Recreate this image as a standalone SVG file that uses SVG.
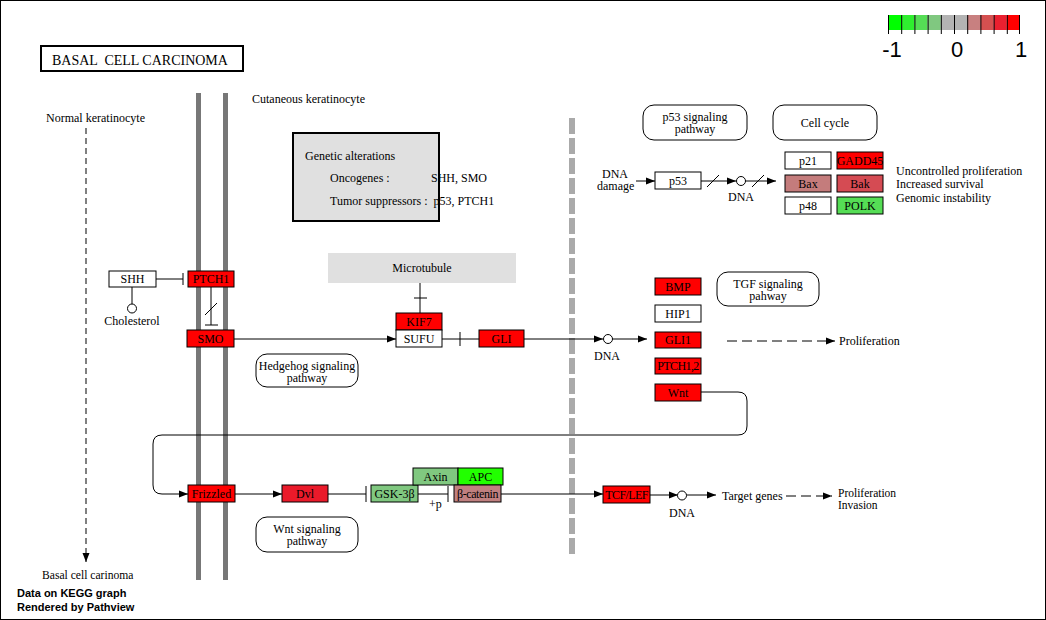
<svg xmlns="http://www.w3.org/2000/svg" width="1046" height="620" viewBox="0 0 1046 620">
<defs>
<style>
text{font-family:"Liberation Serif","Times New Roman",serif;font-size:12px;fill:#000;white-space:pre}
.c{text-anchor:middle}
.n rect{stroke:#000;stroke-width:1}
.ln{stroke:#000;stroke-width:1;fill:none}
.dash{stroke:#000;stroke-width:1;fill:none;stroke-dasharray:10 5}
.pw{fill:#fff;stroke:#000;stroke-width:1}
.foot{font-family:"Liberation Sans",Arial,sans-serif;font-weight:bold;font-size:11px}
.leg{font-family:"Liberation Sans",Arial,sans-serif;font-size:22px;text-anchor:middle}
</style>
<marker id="ar" markerWidth="10" markerHeight="8" refX="9" refY="4" orient="auto" markerUnits="userSpaceOnUse">
<path d="M0,0.5 L9,4 L0,7.5 Z" fill="#000"/>
</marker>
</defs>
<rect x="0.5" y="0.5" width="1045" height="619" fill="#fff" stroke="#000"/>

<g id="legend">
<rect x="888" y="15" width="13.2" height="15" fill="#00FF00"/>
<rect x="901.2" y="15" width="13.2" height="15" fill="#2FEE2F"/>
<rect x="914.4" y="15" width="13.2" height="15" fill="#55DD55"/>
<rect x="927.6" y="15" width="13.2" height="15" fill="#80C880"/>
<rect x="940.8" y="15" width="13.2" height="15" fill="#B3B3B3"/>
<rect x="954" y="15" width="13.2" height="15" fill="#B3B3B3"/>
<rect x="967.2" y="15" width="13.2" height="15" fill="#C88080"/>
<rect x="980.4" y="15" width="13.2" height="15" fill="#D55050"/>
<rect x="993.6" y="15" width="13.2" height="15" fill="#EA2030"/>
<rect x="1006.8" y="15" width="13.2" height="15" fill="#FF0000"/>
<path class="ln" d="M888.5,15V34M901.7,15V34M914.9,15V34M928.1,15V34M941.3,15V34M954.5,15V34M967.7,15V34M980.9,15V34M994.1,15V34M1007.3,15V34M1019.5,15V34"/>
<text class="leg" x="892" y="57">-1</text>
<text class="leg" x="957" y="57">0</text>
<text class="leg" x="1021" y="57">1</text>
</g>

<g id="title">
<rect x="41" y="46" width="202" height="25" fill="#fff" stroke="#000" stroke-width="2"/>
<text x="52" y="65" style="font-size:14px">BASAL  CELL CARCINOMA</text>
</g>

<g id="membranes">
<rect x="196" y="93" width="5" height="487" fill="#777"/>
<rect x="223" y="93" width="5" height="487" fill="#777"/>
<line x1="572" y1="118" x2="572" y2="556" stroke="#AAAAAA" stroke-width="6" stroke-dasharray="16 4"/>
</g>

<g id="labels">
<text x="46" y="122">Normal keratinocyte</text>
<text x="42" y="579" style="font-size:11.6px">Basal cell carinoma</text>
<text x="252" y="103">Cutaneous keratinocyte</text>
<text x="602" y="178">DNA</text>
<text x="597" y="190">damage</text>
<text class="c" x="741" y="201">DNA</text>
<text class="c" x="132" y="325">Cholesterol</text>
<text class="c" x="607" y="360">DNA</text>
<text x="839" y="345">Proliferation</text>
<text x="896" y="175">Uncontrolled proliferation</text>
<text x="896" y="188">Increased survival</text>
<text x="896" y="202">Genomic instability</text>
<text x="429" y="508">+p</text>
<text class="c" x="682" y="517">DNA</text>
<text x="722" y="500">Target genes</text>
<text x="838" y="497" style="font-size:11.5px">Proliferation</text>
<text x="838" y="509" style="font-size:11.5px">Invasion</text>
</g>

<g id="genetic">
<rect x="293" y="133" width="146" height="88" fill="#E0E0E0" stroke="#000" stroke-width="2"/>
<text x="305" y="160">Genetic alterations</text>
<text x="330" y="182">Oncogenes :</text>
<text x="431" y="182">SHH, SMO</text>
<text x="330" y="205">Tumor suppressors :  p53, PTCH1</text>
</g>

<g id="microtubule">
<rect x="328" y="253" width="188" height="30" fill="#E0E0E0"/>
<text class="c" x="422" y="272">Microtubule</text>
</g>

<g id="pathways">
<g id="pw_p53"><rect class="pw" x="643" y="105" width="104" height="35" rx="11"/><text class="c" x="695" y="121">p53 signaling</text><text class="c" x="695" y="133">pathway</text></g>
<g id="pw_cc"><rect class="pw" x="773" y="105" width="104" height="35" rx="11"/><text class="c" x="825" y="127">Cell cycle</text></g>
<g id="pw_tgf"><rect class="pw" x="717" y="272" width="102" height="34" rx="11"/><text class="c" x="768" y="288">TGF signaling</text><text class="c" x="768" y="300">pahway</text></g>
<g id="pw_hh"><rect class="pw" x="256" y="354" width="102" height="33" rx="11"/><text class="c" x="307" y="370">Hedgehog signaling</text><text class="c" x="307" y="382">pathway</text></g>
<g id="pw_wnt"><rect class="pw" x="256" y="517" width="102" height="35" rx="11"/><text class="c" x="307" y="533">Wnt signaling</text><text class="c" x="307" y="545">pathway</text></g>
</g>

<g id="connectors">
<line class="ln" x1="86" y1="128" x2="86" y2="562" stroke-dasharray="6 4" marker-end="url(#ar)"/>
<path class="ln" d="M156,279H183M183,273V285"/>
<path class="ln" d="M132,287V304"/>
<circle cx="132" cy="308.5" r="4.5" fill="#fff" stroke="#000"/>
<path class="ln" d="M211,287V325M205,325H218M205,315L217,303"/>
<line class="ln" x1="234" y1="339" x2="396" y2="339" marker-end="url(#ar)"/>
<path class="ln" d="M420,283V313M414,298H427"/>
<path class="ln" d="M442,339H479M460,332V346"/>
<line class="ln" x1="524" y1="339" x2="603" y2="339" marker-end="url(#ar)"/>
<circle cx="608" cy="339" r="4.5" fill="#fff" stroke="#000"/>
<line class="ln" x1="612.5" y1="339" x2="647" y2="339" marker-end="url(#ar)"/>
<line class="dash" x1="727" y1="341" x2="835" y2="341" marker-end="url(#ar)"/>
<line class="ln" x1="636" y1="181" x2="655" y2="181" marker-end="url(#ar)"/>
<line class="ln" x1="701" y1="181" x2="736" y2="181" marker-end="url(#ar)"/>
<path class="ln" d="M707,187L719,175"/>
<circle cx="741" cy="181" r="4.5" fill="#fff" stroke="#000"/>
<line class="ln" x1="745.5" y1="181" x2="776" y2="181" marker-end="url(#ar)"/>
<path class="ln" d="M752,187L764,175"/>
<path class="ln" d="M701,392H738Q747,392 747,401V426Q747,435 738,435H162Q153,435 153,444V485Q153,494 162,494H188" marker-end="url(#ar)"/>
<line class="ln" x1="235" y1="494" x2="282" y2="494" marker-end="url(#ar)"/>
<path class="ln" d="M328,494H366M366,486V502"/>
<path class="ln" d="M418,494H448M448,486V502"/>
<line class="ln" x1="501" y1="494" x2="603" y2="494" marker-end="url(#ar)"/>
<line class="ln" x1="650" y1="495" x2="678" y2="495" marker-end="url(#ar)"/>
<circle cx="682" cy="495.5" r="4.5" fill="#fff" stroke="#000"/>
<line class="ln" x1="686.5" y1="495" x2="716" y2="495" marker-end="url(#ar)"/>
<line class="dash" x1="786" y1="496" x2="832" y2="496" marker-end="url(#ar)"/>
</g>

<g id="nodes">
<g id="n_SHH" class="n"><rect x="109" y="271" width="47" height="16" fill="#fff"/><text class="c" x="132.5" y="283">SHH</text></g>
<g id="n_PTCH1" class="n"><rect x="188" y="271" width="46" height="16" fill="#FF0000"/><text class="c" x="211" y="283">PTCH1</text></g>
<g id="n_SMO" class="n"><rect x="187" y="330" width="47" height="17" fill="#FF0000"/><text class="c" x="210.5" y="343">SMO</text></g>
<g id="n_KIF7" class="n"><rect x="396" y="313" width="46" height="17" fill="#FF0000"/><text class="c" x="419" y="326">KIF7</text></g>
<g id="n_SUFU" class="n"><rect x="396" y="330" width="46" height="17" fill="#fff"/><text class="c" x="419" y="343">SUFU</text></g>
<g id="n_GLI" class="n"><rect x="479" y="330" width="45" height="17" fill="#FF0000"/><text class="c" x="501.5" y="343">GLI</text></g>
<g id="n_p53" class="n"><rect x="655" y="172" width="46" height="17" fill="#fff"/><text class="c" x="678" y="185">p53</text></g>
<g id="n_p21" class="n"><rect x="785" y="152" width="46" height="17" fill="#fff"/><text class="c" x="808" y="165">p21</text></g>
<g id="n_Bax" class="n"><rect x="785" y="175" width="46" height="17" fill="#C47C7C"/><text class="c" x="808" y="188">Bax</text></g>
<g id="n_p48" class="n"><rect x="785" y="197" width="46" height="17" fill="#fff"/><text class="c" x="808" y="210">p48</text></g>
<g id="n_GADD45" class="n"><rect x="837" y="152" width="46" height="17" fill="#FF0000"/><text class="c" x="860" y="165">GADD45</text></g>
<g id="n_Bak" class="n"><rect x="837" y="175" width="46" height="17" fill="#D54B53"/><text class="c" x="860" y="188">Bak</text></g>
<g id="n_POLK" class="n"><rect x="837" y="197" width="46" height="17" fill="#55DD55"/><text class="c" x="860" y="210">POLK</text></g>
<g id="n_BMP" class="n"><rect x="655" y="278" width="46" height="17" fill="#FF0000"/><text class="c" x="678" y="291">BMP</text></g>
<g id="n_HIP1" class="n"><rect x="655" y="305" width="46" height="17" fill="#fff"/><text class="c" x="678" y="318">HIP1</text></g>
<g id="n_GLI1" class="n"><rect x="655" y="332" width="46" height="16" fill="#FF0000"/><text class="c" x="678" y="344">GLI1</text></g>
<g id="n_PTCH12" class="n"><rect x="655" y="358" width="46" height="16" fill="#FF0000"/><text class="c" x="678" y="370" style="letter-spacing:-0.6px">PTCH1,2</text></g>
<g id="n_Wnt" class="n"><rect x="655" y="384" width="46" height="17" fill="#FF0000"/><text class="c" x="678" y="397">Wnt</text></g>
<g id="n_Frizzled" class="n"><rect x="188" y="485" width="47" height="17" fill="#FF0000"/><text class="c" x="211.5" y="498">Frizzled</text></g>
<g id="n_Dvl" class="n"><rect x="282" y="485" width="46" height="17" fill="#EA1A2A"/><text class="c" x="305" y="498">Dvl</text></g>
<g id="n_GSK" class="n"><rect x="371" y="485" width="47" height="17" fill="#80C880"/><text class="c" x="394.5" y="498">GSK-3β</text></g>
<g id="n_Axin" class="n"><rect x="413" y="468" width="45" height="17" fill="#80C880"/><text class="c" x="435.5" y="481">Axin</text></g>
<g id="n_APC" class="n"><rect x="458" y="468" width="45" height="17" fill="#22FF00"/><text class="c" x="480.5" y="481">APC</text></g>
<g id="n_bcat" class="n"><rect x="454" y="485" width="47" height="17" fill="#C08080"/><text class="c" x="477.5" y="498" style="letter-spacing:-0.4px">β-catenin</text></g>
<g id="n_TCF" class="n"><rect x="603" y="486" width="47" height="17" fill="#FF0000"/><text class="c" x="626.5" y="499" style="letter-spacing:-0.6px">TCF/LEF</text></g>
</g>

<g id="footer">
<text class="foot" x="17" y="597">Data on KEGG graph</text>
<text class="foot" x="17" y="611">Rendered by Pathview</text>
</g>
</svg>
